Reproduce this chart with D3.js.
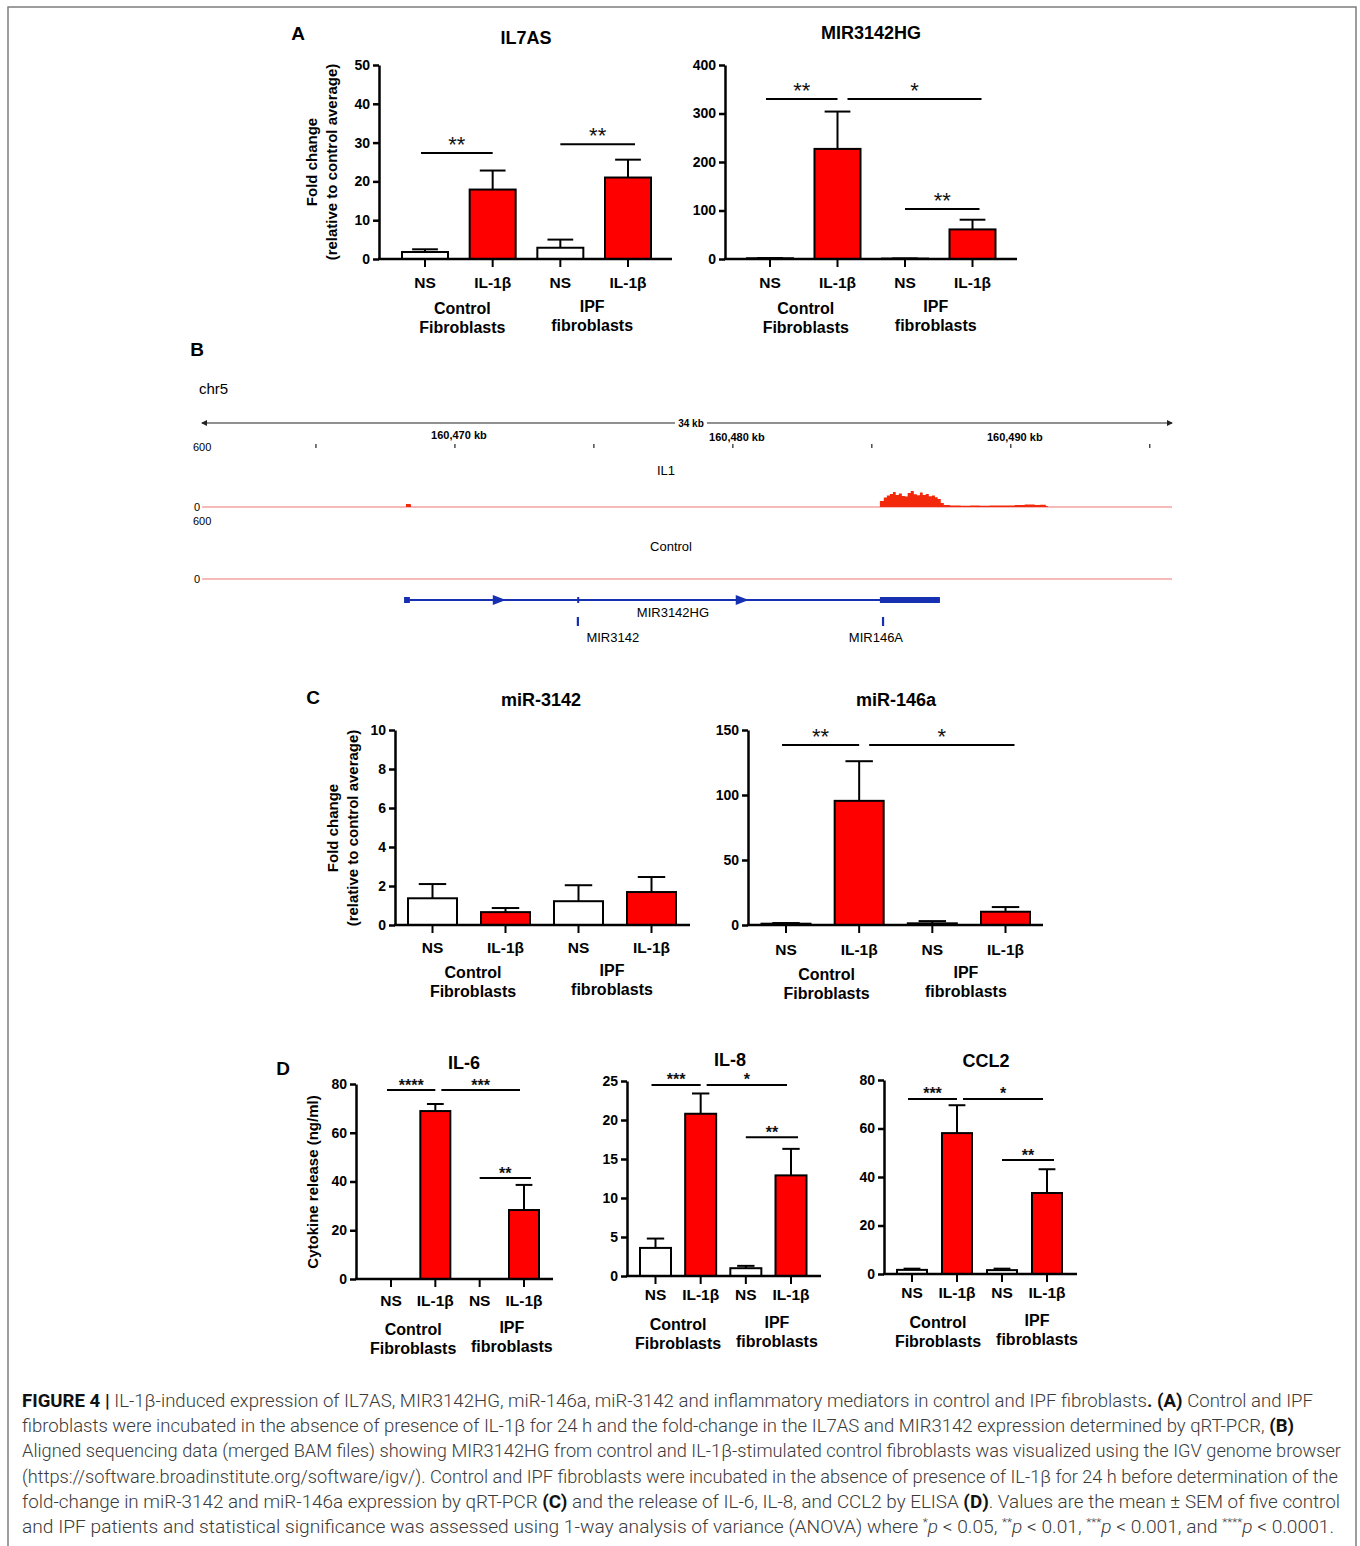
<!DOCTYPE html>
<html>
<head>
<meta charset="utf-8">
<title>Figure 4 - IL-1b induced expression</title>
<script src="https://cdn.jsdelivr.net/npm/d3@7"></script>
<style>
  html, body { margin: 0; padding: 0; background: #fff; }
  svg { display: block; font-family: "Liberation Sans", Arial, sans-serif; }
</style>
</head>
<body>
<svg id="fig" width="1360" height="1546"></svg>
<script>
// ---- data ----
const conditions = ["NS", "IL-1β", "NS", "IL-1β"];
const stimulated = [false, true, false, true];
const cellGroups = [["Control", "Fibroblasts"], ["IPF", "fibroblasts"]];

// panel A (fold change, mean and SEM)
const il7asMean = [1.8, 17.9, 2.9, 21.0];
const il7asSem = [0.7, 4.9, 2.1, 4.6];
const il7asSig = [{ from: 0, to: 1, at: 27.3, label: "**" }, { from: 2, to: 3, at: 29.6, label: "**" }];

const mir3142hgMean = [1.5, 227, 0.8, 61];
const mir3142hgSem = [0.5, 77, 0.3, 20];
const mir3142hgSig = [{ from: 0, to: 1, at: 330, label: "**" }, { from: 1, to: 3, at: 330, label: "*" },
                      { from: 2, to: 3, at: 103, label: "**" }];

// panel C
const mir3142Mean = [1.37, 0.66, 1.22, 1.69];
const mir3142Sem = [0.73, 0.21, 0.82, 0.77];
const mir3142Sig = [];

const mir146aMean = [1.0, 95.5, 1.3, 10.2];
const mir146aSem = [0.5, 30.5, 1.7, 3.6];
const mir146aSig = [{ from: 0, to: 1, at: 138.5, label: "**" }, { from: 1, to: 3, at: 138.5, label: "*" }];

// panel D (ng/ml)
const il6Mean = [0, 68.9, 0, 28.3];
const il6Sem = [0, 2.9, 0, 10.3];
const il6Sig = [{ from: 0, to: 1, at: 77.5, label: "****" }, { from: 1, to: 3, at: 77.5, label: "***" },
                { from: 2, to: 3, at: 41.4, label: "**" }];

const il8Mean = [3.6, 20.8, 1.0, 12.9];
const il8Sem = [1.2, 2.6, 0.3, 3.4];
const il8Sig = [{ from: 0, to: 1, at: 24.5, label: "***" }, { from: 1, to: 3, at: 24.5, label: "*" },
                { from: 2, to: 3, at: 17.8, label: "**" }];

const ccl2Mean = [1.7, 58.1, 1.6, 33.4];
const ccl2Sem = [0.5, 11.5, 0.6, 9.8];
const ccl2Sig = [{ from: 0, to: 1, at: 72.2, label: "***" }, { from: 1, to: 3, at: 72.2, label: "*" },
                 { from: 2, to: 3, at: 47, label: "**" }];

// panel B (IGV view, positions in kb on chr5)
const rulerTicksKb = [160465, 160470, 160475, 160480, 160485, 160490, 160495];
const rulerLabelsKb = [160470, 160480, 160490];
const il1CovKb = [160468.17, 160468.24, 160468.38, 160468.42,
  160485.22, 160485.29, 160485.43, 160485.54, 160485.65, 160485.76, 160485.86, 160485.97,
  160486.08, 160486.19, 160486.29, 160486.40, 160486.51, 160486.62, 160486.73, 160486.83,
  160486.94, 160487.05, 160487.16, 160487.27, 160487.37, 160487.48, 160487.59, 160487.81,
  160488.20, 160488.53, 160488.90, 160489.24, 160489.60, 160489.90, 160490.14, 160490.50,
  160490.86, 160491.04, 160491.26, 160491.33];
const il1CovReads = [0, 30, 28, 0,
  0, 60, 95, 115, 130, 150, 120, 135,
  110, 105, 140, 160, 128, 118, 145, 120,
  130, 108, 115, 98, 80, 40, 20, 15,
  13, 15, 12, 15, 14, 16, 20, 25,
  20, 22, 10, 0];
const controlCovKb = [];
const controlCovReads = [];
const geneSpanKb = [160468.24, 160487.45];
const geneBlocksKb = [[160468.17, 160468.38], [160474.40, 160474.46], [160485.29, 160487.45]];
const strandArrowsKb = [160471.58, 160480.32];
const mirnaNames = ["MIR3142", "MIR146A"];
const mirnaKb = [160474.42, 160485.40];

// ---- drawing ----
const svg = d3.select("#fig");
const RED = "#ff0000";

svg.append("rect")
  .attr("x", 8).attr("y", 7).attr("width", 1348).attr("height", 1600)
  .attr("fill", "none").attr("stroke", "#7d7d7d").attr("stroke-width", 1.5);

// panel letters
[["A", 298, 40], ["B", 197, 356], ["C", 313, 704], ["D", 283, 1075]].forEach(p => {
  svg.append("text").attr("x", p[1]).attr("y", p[2]).attr("text-anchor", "middle")
    .attr("font-size", 19).attr("font-weight", "bold").text(p[0]);
});

const charts = [
  { title: "IL7AS", tx: 526, ty: 44, axisX: 379, xEnd: 672, y0: 259, y1: 65, c0: 425, c3: 628, bw: 46,
    yMax: 50, step: 10, means: il7asMean, sems: il7asSem, sig: il7asSig,
    ylabel: ["Fold change", "(relative to control average)"], ylx: [312, 332], yly: 162,
    catDy: 29, grpDy: [55, 74], grpDx: [3.5, -2], stars: "big" },
  { title: "MIR3142HG", tx: 871, ty: 39, axisX: 725, xEnd: 1017, y0: 259, y1: 65, c0: 770, c3: 972.5, bw: 46,
    yMax: 400, step: 100, means: mir3142hgMean, sems: mir3142hgSem, sig: mir3142hgSig,
    catDy: 29, grpDy: [55, 74], grpDx: [2, -3], stars: "big" },
  { title: "miR-3142", tx: 541, ty: 706, axisX: 395, xEnd: 690, y0: 925, y1: 730, c0: 432.5, c3: 651.5, bw: 49,
    yMax: 10, step: 2, means: mir3142Mean, sems: mir3142Sem, sig: mir3142Sig,
    ylabel: ["Fold change", "(relative to control average)"], ylx: [333, 353], yly: 828,
    catDy: 28, grpDy: [53, 72], grpDx: [4, -3], stars: "big" },
  { title: "miR-146a", tx: 896, ty: 706, axisX: 748, xEnd: 1043, y0: 925, y1: 730, c0: 786, c3: 1005.5, bw: 49,
    yMax: 150, step: 50, means: mir146aMean, sems: mir146aSem, sig: mir146aSig,
    catDy: 30, grpDy: [55, 74], grpDx: [4, -3], stars: "big" },
  { title: "IL-6", tx: 464, ty: 1069, axisX: 356, xEnd: 553, y0: 1279, y1: 1084, c0: 391, c3: 524, bw: 30,
    yMax: 80, step: 20, means: il6Mean, sems: il6Sem, sig: il6Sig,
    ylabel: ["Cytokine release (ng/ml)"], ylx: [313], yly: 1182,
    catDy: 27, grpDy: [56, 75], grpDx: [0, 10], stars: "small" },
  { title: "IL-8", tx: 730, ty: 1066, axisX: 627, xEnd: 821, y0: 1276, y1: 1081, c0: 655.5, c3: 791, bw: 31,
    yMax: 25, step: 5, means: il8Mean, sems: il8Sem, sig: il8Sig,
    catDy: 24, grpDy: [54, 73], grpDx: [0, 8.5], stars: "small" },
  { title: "CCL2", tx: 986, ty: 1067, axisX: 884, xEnd: 1077, y0: 1274, y1: 1080, c0: 912, c3: 1047, bw: 30,
    yMax: 80, step: 20, means: ccl2Mean, sems: ccl2Sem, sig: ccl2Sig,
    catDy: 24, grpDy: [54, 73], grpDx: [3.5, 12.5], stars: "small" }
];

function drawBars(c) {
  const g = svg.append("g");
  const y = d3.scaleLinear().domain([0, c.yMax]).range([c.y0, c.y1]);
  const x = d3.scalePoint().domain(d3.range(conditions.length)).range([c.c0, c.c3]);
  const big = c.stars === "big";

  g.append("text").attr("x", c.tx).attr("y", c.ty).attr("text-anchor", "middle")
    .attr("font-size", 18).attr("font-weight", "bold").text(c.title);

  // bars
  g.selectAll("rect.bar").data(c.means).join("rect").attr("class", "bar")
    .attr("x", (d, i) => x(i) - c.bw / 2)
    .attr("y", d => y(d))
    .attr("width", c.bw)
    .attr("height", d => y(0) - y(d))
    .attr("fill", (d, i) => stimulated[i] ? RED : "#fff")
    .attr("stroke", "#000").attr("stroke-width", 2);

  // upper error bars
  const cap = c.bw * 0.56;
  c.means.forEach((d, i) => {
    if (!c.sems[i]) return;
    const top = y(d + c.sems[i]);
    g.append("line").attr("x1", x(i)).attr("x2", x(i)).attr("y1", y(d)).attr("y2", top)
      .attr("stroke", "#000").attr("stroke-width", 2);
    g.append("line").attr("x1", x(i) - cap / 2).attr("x2", x(i) + cap / 2).attr("y1", top).attr("y2", top)
      .attr("stroke", "#000").attr("stroke-width", 2);
  });

  // y axis
  const yAxis = g.append("g").attr("transform", `translate(${c.axisX},0)`)
    .call(d3.axisLeft(y).tickValues(d3.range(0, c.yMax + c.step / 2, c.step))
      .tickSize(6).tickSizeOuter(0).tickPadding(3));
  yAxis.attr("font-size", 14).attr("font-weight", "bold").attr("font-family", null);
  yAxis.selectAll("path, line").attr("stroke-width", 2.5);

  // x axis line and ticks
  g.append("line").attr("x1", c.axisX - 1).attr("x2", c.xEnd).attr("y1", c.y0).attr("y2", c.y0)
    .attr("stroke", "#000").attr("stroke-width", 2.5);
  g.selectAll("line.xt").data(conditions).join("line").attr("class", "xt")
    .attr("x1", (d, i) => x(i)).attr("x2", (d, i) => x(i))
    .attr("y1", c.y0).attr("y2", c.y0 + 8)
    .attr("stroke", "#000").attr("stroke-width", 2);
  g.selectAll("text.cat").data(conditions).join("text").attr("class", "cat")
    .attr("x", (d, i) => x(i)).attr("y", c.y0 + c.catDy)
    .attr("text-anchor", "middle").attr("font-size", 15.5).attr("font-weight", "bold").text(d => d);

  // cell group labels
  cellGroups.forEach((lines, k) => {
    const cx = (x(2 * k) + x(2 * k + 1)) / 2 + c.grpDx[k];
    lines.forEach((t, j) => {
      g.append("text").attr("x", cx).attr("y", c.y0 + c.grpDy[j] - (k === 1 ? 2 : 0))
        .attr("text-anchor", "middle").attr("font-size", 16).attr("font-weight", "bold").text(t);
    });
  });

  // y axis title
  if (c.ylabel) {
    c.ylabel.forEach((t, j) => {
      g.append("text").attr("transform", `translate(${c.ylx[j] + 5},${c.yly}) rotate(-90)`)
        .attr("text-anchor", "middle").attr("font-size", 15).attr("font-weight", "bold").text(t);
    });
  }

  // significance brackets
  const ends = new Set();
  c.sig.forEach(s => {
    const chained = ends.has(s.from + ":" + s.at);
    const x1 = chained ? x(s.from) + (big ? 10 : 6) : x(s.from) + (s.from === 0 ? -4 : 0);
    const x2 = s.to - s.from > 1 ? x(s.to) + (big ? 9 : -4) : x(s.to) + (s.to === 3 ? 7 : 0);
    ends.add(s.to + ":" + s.at);
    const ly = y(s.at);
    g.append("line").attr("x1", x1).attr("x2", x2).attr("y1", ly).attr("y2", ly)
      .attr("stroke", "#000").attr("stroke-width", 2);
    g.append("text").attr("x", (x1 + x2) / 2).attr("y", big ? ly - 1 : ly + 0.5)
      .attr("text-anchor", "middle")
      .attr("font-size", big ? 22 : 16).attr("font-weight", big ? "normal" : "bold")
      .attr("fill", "#111").text(s.label);
  });
}
charts.forEach(drawBars);

// ---- panel B : IGV genome browser view ----
const gB = svg.append("g");
const gx = d3.scaleLinear().domain([160460.9, 160495.8]).range([202, 1172]);

gB.append("text").attr("x", 199).attr("y", 394).attr("font-size", 15).text("chr5");

// ruler
const rulerY = 423;
gB.append("line").attr("x1", gx.range()[0]).attr("x2", gx.range()[1]).attr("y1", rulerY).attr("y2", rulerY)
  .attr("stroke", "#222").attr("stroke-width", 1.2);
gB.append("path").attr("d", `M${gx.range()[0] - 1},${rulerY} l6,-3 v6 z`).attr("fill", "#222");
gB.append("path").attr("d", `M${gx.range()[1] + 1},${rulerY} l-6,-3 v6 z`).attr("fill", "#222");
const spanLabel = d3.format(".0f")(gx.domain()[1] - gx.domain()[0] - 0.5) + " kb";
gB.append("rect").attr("x", 675).attr("y", rulerY - 6).attr("width", 32).attr("height", 12).attr("fill", "#fff");
gB.append("text").attr("x", 691).attr("y", rulerY + 4).attr("text-anchor", "middle")
  .attr("font-size", 10).attr("font-weight", "bold").text(spanLabel);
gB.selectAll("line.rt").data(rulerTicksKb).join("line").attr("class", "rt")
  .attr("x1", d => gx(d)).attr("x2", d => gx(d)).attr("y1", 444).attr("y2", 448)
  .attr("stroke", "#222").attr("stroke-width", 1.2);
gB.selectAll("text.rl").data(rulerLabelsKb).join("text").attr("class", "rl")
  .attr("x", (d, i) => gx(d) + 4).attr("y", (d, i) => 439 + (i ? 2 : 0))
  .attr("text-anchor", "middle").attr("font-size", 11).attr("font-weight", "bold")
  .text(d => d3.format(",")(d) + " kb");

// coverage tracks
const tracks = [
  { name: "IL1", top: 447, base: 507, nameY: 475, nameX: 666, kb: il1CovKb, reads: il1CovReads },
  { name: "Control", top: 521, base: 579, nameY: 551, nameX: 671, kb: controlCovKb, reads: controlCovReads }
];
tracks.forEach(t => {
  const ty = d3.scaleLinear().domain([0, 600]).range([t.base, t.top]);
  gB.append("text").attr("x", 193).attr("y", ty(600) + 4).attr("font-size", 11).text("600");
  gB.append("text").attr("x", 194).attr("y", ty(0) + 4).attr("font-size", 11).text("0");
  gB.append("text").attr("x", t.nameX).attr("y", t.nameY).attr("text-anchor", "middle")
    .attr("font-size", 13).text(t.name);
  gB.append("line").attr("x1", gx.range()[0]).attr("x2", gx.range()[1]).attr("y1", ty(0)).attr("y2", ty(0))
    .attr("stroke", "#f4a3a3").attr("stroke-width", 1.6);
  const pts = t.kb.map((k, i) => [k, t.reads[i]]);
  if (pts.length) {
    gB.append("path").datum(pts)
      .attr("d", d3.area().x(d => gx(d[0])).y0(ty(0)).y1(d => ty(d[1])).curve(d3.curveStepAfter))
      .attr("fill", "#f2290b");
  }
});

// gene model
const BLUE = "#1630b2";
const geneY = 600;
gB.append("line").attr("x1", gx(geneSpanKb[0])).attr("x2", gx(geneSpanKb[1])).attr("y1", geneY).attr("y2", geneY)
  .attr("stroke", BLUE).attr("stroke-width", 2);
gB.selectAll("rect.exon").data(geneBlocksKb).join("rect").attr("class", "exon")
  .attr("x", d => gx(d[0])).attr("y", geneY - 3)
  .attr("width", d => Math.max(2, gx(d[1]) - gx(d[0]))).attr("height", 6).attr("fill", BLUE);
gB.selectAll("path.arrow").data(strandArrowsKb).join("path").attr("class", "arrow")
  .attr("d", d => `M${gx(d) - 6},${geneY - 5} L${gx(d) + 7},${geneY} L${gx(d) - 6},${geneY + 5} Z`)
  .attr("fill", BLUE);
gB.append("text").attr("x", (gx(geneSpanKb[0]) + gx(geneSpanKb[1])) / 2).attr("y", 617)
  .attr("text-anchor", "middle").attr("font-size", 13).text("MIR3142HG");
const mirnaLabelDx = [35, -7];
gB.selectAll("rect.mir").data(mirnaKb).join("rect").attr("class", "mir")
  .attr("x", d => gx(d) - 1).attr("y", 617).attr("width", 2.2).attr("height", 9).attr("fill", BLUE);
gB.selectAll("text.mir").data(mirnaNames).join("text").attr("class", "mir")
  .attr("x", (d, i) => gx(mirnaKb[i]) + mirnaLabelDx[i]).attr("y", 642)
  .attr("text-anchor", "middle").attr("font-size", 13).text(d => d);

// ---- caption ----
const captionLines = [
  { end: 1313, parts: [["FIGURE 4 | ", "b"], ["IL-1β-induced expression of IL7AS, MIR3142HG, miR-146a, miR-3142 and inflammatory mediators in control and IPF fibroblasts"], [". (A)", "b"], [" Control and IPF"]] },
  { end: 1294, parts: [["fibroblasts were incubated in the absence of presence of IL-1β for 24 h and the fold-change in the IL7AS and MIR3142 expression determined by qRT-PCR, "], ["(B)", "b"]] },
  { end: 1341, parts: [["Aligned sequencing data (merged BAM files) showing MIR3142HG from control and IL-1β-stimulated control fibroblasts was visualized using the IGV genome browser"]] },
  { end: 1338, parts: [["(https://software.broadinstitute.org/software/igv/). Control and IPF fibroblasts were incubated in the absence of presence of IL-1β for 24 h before determination of the"]] },
  { end: 1340, parts: [["fold-change in miR-3142 and miR-146a expression by qRT-PCR "], ["(C)", "b"], [" and the release of IL-6, IL-8, and CCL2 by ELISA "], ["(D)", "b"], [". Values are the mean ± SEM of five control"]] },
  { end: 1334, parts: [["and IPF patients and statistical significance was assessed using 1-way analysis of variance (ANOVA) where "],
    ["*", "sup"], ["p", "i"], [" < 0.05, "], ["**", "sup"], ["p", "i"], [" < 0.01, "], ["***", "sup"], ["p", "i"],
    [" < 0.001, and "], ["****", "sup"], ["p", "i"], [" < 0.0001."]] }
];
const capG = svg.append("g").attr("font-family", "Roboto, 'Liberation Sans', Arial, sans-serif")
  .attr("font-size", 18).attr("fill", "#3a3a3a");
captionLines.forEach((ln, li) => {
  const t = capG.append("text").attr("x", 22).attr("y", 1407 + li * 25.2)
    .attr("textLength", ln.end - 22).attr("lengthAdjust", "spacingAndGlyphs");
  let shifted = false;
  ln.parts.forEach(p => {
    const s = t.append("tspan").text(p[0]);
    if (p[1] === "b") s.attr("font-weight", "bold").attr("fill", "#111");
    else s.attr("font-weight", 300);
    if (p[1] === "i") s.attr("font-style", "italic");
    if (p[1] === "sup") { s.attr("font-size", 11).attr("dy", -7); shifted = true; }
    else if (shifted) { s.attr("dy", 7); shifted = false; }
  });
});
</script>
</body>
</html>
